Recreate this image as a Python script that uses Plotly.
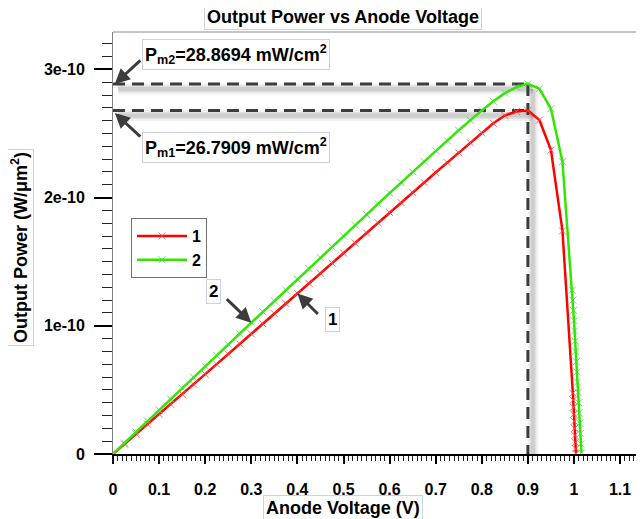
import plotly.graph_objects as go

# ---------------- data (power in units of 1e-10 W/um^2) ----------------
v_main = [0, 0.025, 0.05, 0.075, 0.1, 0.125, 0.15, 0.175, 0.2, 0.225, 0.25, 0.275,
          0.3, 0.325, 0.35, 0.375, 0.4, 0.425, 0.45, 0.475, 0.5, 0.525, 0.55, 0.575,
          0.6, 0.625, 0.65, 0.675, 0.7, 0.725, 0.75, 0.775, 0.8, 0.825, 0.85, 0.875,
          0.9, 0.925, 0.95, 0.975]

v1_tail = [0.9975, 0.99825, 0.999, 0.99975, 1.0005, 1.00125, 1.002, 1.00275, 1.0035, 1.00425]
p1_main = [0, 0.077, 0.155, 0.232, 0.31, 0.388, 0.466, 0.544, 0.623, 0.701, 0.78, 0.858,
           0.937, 1.016, 1.095, 1.173, 1.252, 1.331, 1.41, 1.489, 1.568, 1.646, 1.725, 1.804,
           1.883, 1.961, 2.04, 2.118, 2.196, 2.273, 2.35, 2.428, 2.505, 2.58, 2.64, 2.672,
           2.679, 2.605, 2.37, 1.74]
p1_tail = [0.474, 0.42, 0.365, 0.31, 0.255, 0.2, 0.145, 0.09, 0.04, 0.005]

v2_tail = [0.99625, 0.9975, 0.99875, 1.0, 1.00125, 1.0025, 1.00375, 1.005, 1.00625,
           1.0075, 1.00875, 1.01, 1.01125, 1.0125, 1.01375, 1.015, 1.01625]
p2_main = [0, 0.086, 0.171, 0.257, 0.342, 0.428, 0.513, 0.598, 0.684, 0.769, 0.854, 0.939,
           1.024, 1.109, 1.194, 1.278, 1.363, 1.447, 1.532, 1.616, 1.7, 1.784, 1.868, 1.951,
           2.035, 2.118, 2.2, 2.282, 2.364, 2.445, 2.525, 2.604, 2.68, 2.752, 2.815, 2.862,
           2.887, 2.849, 2.693, 2.28]
p2_tail = [1.278, 1.2, 1.12, 1.04, 0.96, 0.88, 0.8, 0.72, 0.64, 0.56, 0.48, 0.4, 0.32,
           0.24, 0.16, 0.08, 0.01]

series_names = ["1", "2"]
pm1 = 26.7909  # mW/cm^2
pm2 = 28.8694  # mW/cm^2
v_peak = 0.9

x_ticks = [0, 0.1, 0.2, 0.3, 0.4, 0.5, 0.6, 0.7, 0.8, 0.9, 1, 1.1]
x_ticktext = ["0", "0.1", "0.2", "0.3", "0.4", "0.5", "0.6", "0.7", "0.8", "0.9", "1", "1.1"]
y_ticks = [0, 1e-10, 2e-10, 3e-10]
y_ticktext = ["0", "1e-10", "2e-10", "3e-10"]

# ---------------- derived ----------------
E = 1e-10
v1 = v_main + v1_tail
p1 = [p * E for p in p1_main + p1_tail]
v2 = v_main + v2_tail
p2 = [p * E for p in p2_main + p2_tail]
pm1_w = pm1 * 1e-3 / 1e8   # W/um^2
pm2_w = pm2 * 1e-3 / 1e8

OFF = 8  # page body margin
W, H = 644, 519
# plot area in screen pixels
SX0, SX1 = 113, 652
SY0, SY1 = 32, 454
L, T = SX0 - OFF, SY0 - OFF
R = W - (SX1 - OFF)
B = H - (SY1 - OFF)
PW, PH = SX1 - SX0, SY1 - SY0
XMAX = (SX1 - SX0) / 461.0
YMAX = (SY1 - SY0) / 128.2 * 1e-10

def xp(px):  # screen pixel -> paper x
    return (px - SX0) / PW

def yp(py):  # screen pixel -> paper y
    return (SY1 - py) / PH

DX = 5 * XMAX / PW
DY = 5 * YMAX / PH

FONT = "Arial, Liberation Sans, sans-serif"
RED = "#ff0000"
GREEN = "#33e600"
DASH = "#3c3c3c"

fig = go.Figure()
fig.add_trace(go.Scatter(
    x=v1, y=p1, name="<b>%s</b>" % series_names[0], mode="lines+markers",
    line=dict(color=RED, width=2.5),
    marker=dict(symbol="x-thin", size=7, line=dict(width=1, color="rgba(255,70,70,0.8)")),
))
fig.add_trace(go.Scatter(
    x=v2, y=p2, name="<b>%s</b>" % series_names[1], mode="lines+markers",
    line=dict(color=GREEN, width=2.5),
    marker=dict(symbol="x-thin", size=7, line=dict(width=1, color="rgba(60,220,60,0.8)")),
))

shapes = []
segs = [
    (0, pm2_w, v_peak, pm2_w),
    (0, pm1_w, v_peak, pm1_w),
    (v_peak, pm2_w, v_peak, 0),
]
for (x0, y0, x1, y1) in segs:
    for w, a in [(11, 0.05), (7, 0.07), (4, 0.08)]:
        shapes.append(dict(type="line", xref="x", yref="y", layer="below",
                           x0=x0 + DX, y0=y0 - DY, x1=x1 + DX, y1=y1 - DY,
                           line=dict(color=f"rgba(0,0,0,{a})", width=w)))
for (x0, y0, x1, y1) in segs:
    shapes.append(dict(type="line", xref="x", yref="y", layer="below",
                       x0=x0, y0=y0, x1=x1, y1=y1,
                       line=dict(color=DASH, width=3, dash="12px,7px")))
# top frame line
shapes.append(dict(type="line", xref="paper", yref="paper", x0=0, x1=1, y0=1, y1=1,
                   line=dict(color="#8a8a8a", width=1)))

BOX = dict(bgcolor="white", bordercolor="#c9d2e3", borderwidth=1, borderpad=2)
ARROW = dict(showarrow=True, arrowhead=2, arrowsize=1, arrowwidth=3, arrowcolor=DASH, text="")

def label(text, px, py, size, **kw):
    d = dict(text=text, xref="paper", yref="paper", x=xp(px), y=yp(py),
             xanchor="center", yanchor="middle", showarrow=False,
             font=dict(size=size, color="black", family=FONT))
    d.update(BOX)
    d.update(kw)
    return d

annotations = [
    label("<b>Output Power vs Anode Voltage</b>", 343, 17, 18),
    label("<b>Anode Voltage (V)</b>", 343, 508, 18),
    label("<b>Output Power (W/μm<sup>2</sup>)</b>", 20, 248, 18, textangle=-90),
    label("<b>P<sub>m2</sub>=%.4f mW/cm<sup>2</sup></b>" % pm2, 142, 55, 18, xanchor="left"),
    label("<b>P<sub>m1</sub>=%.4f mW/cm<sup>2</sup></b>" % pm1, 142, 147, 18, xanchor="left"),
    dict(xref="x", yref="y", x=0.004, y=pm2_w, ax=27, ay=-25, **ARROW),
    dict(xref="x", yref="y", x=0.004, y=pm1_w - 0.02e-10, ax=27, ay=25, **ARROW),
    label("<b>2</b>", 213, 292, 17),
    label("<b>1</b>", 332, 319, 17),
    dict(xref="x", yref="y", x=v_main[12], y=p2_main[12] * E, ax=-26, ay=-25, **ARROW),
    dict(xref="x", yref="y", x=v_main[16], y=p1_main[16] * E, ax=22, ay=22, **ARROW),
]

fig.update_layout(
    width=W, height=H,
    margin=dict(l=L, r=R, t=T, b=B, autoexpand=False),
    paper_bgcolor="white", plot_bgcolor="white",
    font=dict(family=FONT, size=16, color="black"),
    showlegend=True,
    legend=dict(x=xp(131), y=yp(218), xanchor="left", yanchor="top",
                bgcolor="white", bordercolor="#707070", borderwidth=1,
                font=dict(size=16, family=FONT, color="black"),
                itemwidth=50, tracegroupgap=0),
    shapes=shapes,
    annotations=annotations,
    xaxis=dict(range=[0, XMAX], tickmode="array", tickvals=x_ticks,
               ticktext=["<b>%s</b>" % t for t in x_ticktext],
               ticks="outside", ticklen=8, tickwidth=2, tickcolor="black",
               ticklabelstandoff=12,
               minor=dict(dtick=0.01, tick0=0, ticks="outside", ticklen=5, tickwidth=1, tickcolor="#222"),
               showline=True, linecolor="black", linewidth=2,
               showgrid=False, zeroline=False, tickfont=dict(size=16, family=FONT)),
    yaxis=dict(range=[0, YMAX], tickmode="array", tickvals=y_ticks,
               ticktext=["<b>%s</b>" % t for t in y_ticktext],
               ticks="outside", ticklen=18, tickwidth=2, tickcolor="black",
               ticklabelstandoff=6,
               minor=dict(dtick=1e-11, tick0=0, ticks="outside", ticklen=10, tickwidth=1, tickcolor="#222"),
               showline=True, linecolor="#808080", linewidth=1,
               showgrid=False, zeroline=False, tickfont=dict(size=16, family=FONT)),
)

fig.write_html("out.html")
